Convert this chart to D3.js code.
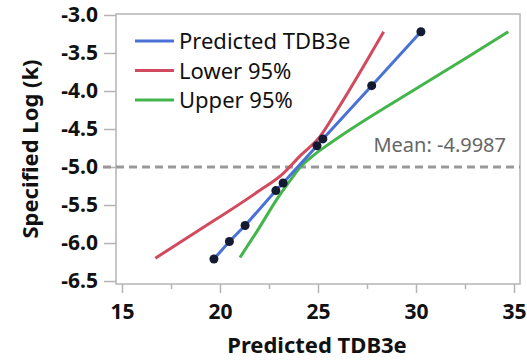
<!DOCTYPE html>
<html>
<head>
<meta charset="utf-8">
<style>
  body{
    margin:0;
    background-color:#fff;
  }
  #vis{
    display:block;
  }
  text{
    font-family:"Noto Sans", "Open Sans", sans-serif;
  }
</style>
<script src="https://d3js.org/d3.v7.min.js"></script>
</head>
<body>
<svg id="vis"></svg>
<script>
  var width = 527,
    height = 360,
    //colors
    blue = "#4a72d6",
    red = "#d14a5e",
    green = "#43b54a",
    dots = "#151a33",
    frame = "#b4b4b4";

  // data -------------------------------------------------
  // predicted points (x = Predicted TDB3e, y = Specified Log (k))
  var predX = [19.69, 20.48, 21.28, 22.85, 23.22, 24.95, 25.25, 27.74, 30.25];
  var predY = [-6.21, -5.98, -5.77, -5.31, -5.21, -4.72, -4.63, -3.93, -3.22];

  var lowerX = [16.7, 19.0, 21.9, 23.2, 24.1, 25.1, 26.0, 28.35];
  var lowerY = [-6.20, -5.82, -5.33, -5.09, -4.85, -4.60, -4.24, -3.22];

  var upperX = [21.02, 22.0, 22.89, 23.6, 24.1, 24.8, 25.6, 26.63, 30.0, 32.6, 34.71];
  var upperY = [-6.19, -5.80, -5.43, -5.17, -5.00, -4.84, -4.69, -4.51, -3.97, -3.56, -3.22];

  var meanY = -4.9987;

  var xTicks = [15, 20, 25, 30, 35];
  var xMinor = [17.5, 22.5, 27.5, 32.5];
  var yTicks = [-3.0, -3.5, -4.0, -4.5, -5.0, -5.5, -6.0, -6.5];

  var legendNames = ["Predicted TDB3e", "Lower 95%", "Upper 95%"];

  // scaling -------------------------------------------------
  var pLeft = 116, pRight = 520, pTop = 14, pBottom = 284;

  var xscale = d3.scaleLinear()
    .domain([14.694, 35.306])
    .range([pLeft, pRight]);

  var yscale = d3.scaleLinear()
    .domain([-6.539, -2.987])
    .range([pBottom, pTop]);

  function pairs(xs, ys) {
    return xs.map(function(x, i) { return [x, ys[i]]; });
  }

  var svg = d3.select("#vis")
    .attr("width", width)
    .attr("height", height);

  // frame -------------------------------------------------
  svg.append("rect")
    .attr("x", pLeft)
    .attr("y", pTop)
    .attr("width", pRight - pLeft)
    .attr("height", pBottom - pTop)
    .style("fill", "none")
    .style("stroke", frame)
    .style("stroke-width", 1.5);

  // axes -------------------------------------------------
  svg.append("g")
    .attr("transform", "translate(0," + pBottom + ")")
    .call(d3.axisBottom(xscale).tickValues(xTicks).tickSize(9).tickPadding(11).tickFormat(d3.format("d")));

  svg.append("g")
    .attr("transform", "translate(0," + pBottom + ")")
    .call(d3.axisBottom(xscale).tickValues(xMinor).tickSize(5).tickFormat(""));

  svg.append("g")
    .attr("transform", "translate(" + pLeft + ",0)")
    .call(d3.axisLeft(yscale).tickValues(yTicks).tickSize(12).tickPadding(6)
      .tickFormat(function(d) { return d.toFixed(1); }));

  svg.selectAll(".domain").remove();
  svg.selectAll(".tick line")
    .style("stroke", frame)
    .style("stroke-width", 1.5);
  svg.selectAll(".tick text")
    .style("font-family", "'Noto Sans', sans-serif")
    .style("font-size", "21px")
    .style("font-weight", "bold")
    .style("fill", "#111");

  // axis titles
  svg.append("text")
    .attr("x", 317)
    .attr("y", 353)
    .attr("text-anchor", "middle")
    .style("font-size", "22px")
    .style("font-weight", "bold")
    .style("fill", "#111")
    .text("Predicted TDB3e");

  svg.append("text")
    .attr("transform", "translate(38," + ((pTop + pBottom) / 2) + ") rotate(-90)")
    .attr("text-anchor", "middle")
    .style("font-size", "22px")
    .style("font-weight", "bold")
    .style("fill", "#111")
    .text("Specified Log (k)");

  // mean line -------------------------------------------------
  svg.append("line")
    .attr("x1", 103)
    .attr("x2", pRight)
    .attr("y1", yscale(meanY))
    .attr("y2", yscale(meanY))
    .style("stroke", "#999")
    .style("stroke-width", 3)
    .style("stroke-dasharray", "8,5");

  svg.append("text")
    .attr("x", 506)
    .attr("y", 152)
    .attr("text-anchor", "end")
    .style("font-size", "20px")
    .style("fill", "#666")
    .text("Mean: -4.9987");

  // curves -------------------------------------------------
  var line = d3.line()
    .x(function(d) { return xscale(d[0]); })
    .y(function(d) { return yscale(d[1]); })
    .curve(d3.curveMonotoneX);

  svg.append("path")
    .datum(pairs(lowerX, lowerY))
    .attr("d", line)
    .style("fill", "none")
    .style("stroke", red)
    .style("stroke-width", 3);

  svg.append("path")
    .datum(pairs(upperX, upperY))
    .attr("d", line)
    .style("fill", "none")
    .style("stroke", green)
    .style("stroke-width", 3);

  var pred = pairs(predX, predY);

  svg.append("path")
    .datum(pred)
    .attr("d", d3.line()
      .x(function(d) { return xscale(d[0]); })
      .y(function(d) { return yscale(d[1]); }))
    .style("fill", "none")
    .style("stroke", blue)
    .style("stroke-width", 3);

  svg.selectAll("circle.pt")
    .data(pred)
    .enter().append("circle")
    .attr("class", "pt")
    .attr("cx", function(d) { return xscale(d[0]); })
    .attr("cy", function(d) { return yscale(d[1]); })
    .attr("r", 4.5)
    .style("fill", dots);

  // legend -------------------------------------------------
  var legendColors = [blue, red, green];
  var legend = svg.selectAll("g.leg")
    .data(legendNames)
    .enter().append("g")
    .attr("class", "leg")
    .attr("transform", function(d, i) { return "translate(135," + (41 + i * 29.5) + ")"; });

  legend.append("line")
    .attr("x1", 0)
    .attr("x2", 39)
    .style("stroke", function(d, i) { return legendColors[i]; })
    .style("stroke-width", 3);

  legend.append("text")
    .attr("x", 44)
    .attr("y", 8)
    .style("font-size", "22px")
    .style("fill", "#111")
    .text(function(d) { return d; });
</script>
</body>
</html>
